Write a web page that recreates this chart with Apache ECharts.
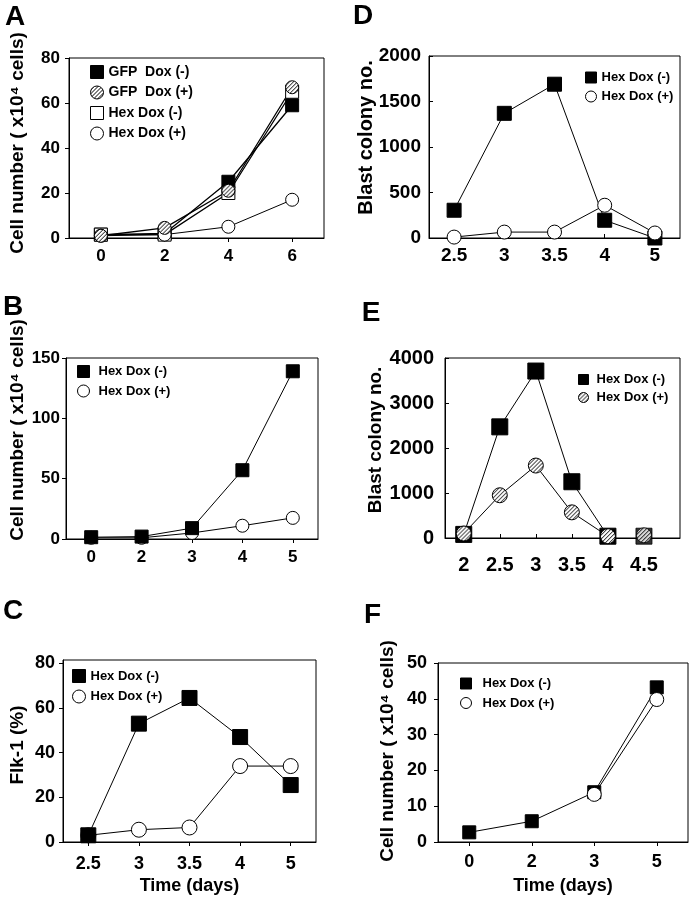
<!DOCTYPE html>
<html><head><meta charset="utf-8">
<script src="https://cdn.jsdelivr.net/npm/echarts@6/dist/echarts.min.js"></script>
<style>html,body{margin:0;padding:0;background:#fff}#c{width:693px;height:900px}</style>
</head><body><div id="c"></div>
<script>
// ---------- data ----------
const catA = ['0', '2', '4', '6'];
const aGfpMinus = [1.5, 2, 25, 59];
const aGfpPlus = [1, 4.5, 21, 67];
const aHexMinus = [1.5, 1.5, 20, 65];
const aHexPlus = [1, 1.5, 5, 17];

const catB = ['0', '2', '3', '4', '5'];
const bHexMinus = [1.5, 2, 9, 57, 139];
const bHexPlus = [1, 1, 5, 11, 17.5];

const catC = ['2.5', '3', '3.5', '4', '5'];
const cHexMinus = [3, 53, 64.5, 47, 25.5];
const cHexPlus = [3, 5.5, 6.5, 34, 34];

const catD = ['2.5', '3', '3.5', '4', '5'];
const dHexMinus = [305, 1370, 1690, 195, 0];
const dHexPlus = [10, 65, 65, 360, 55];

const xE = [2, 2.5, 3, 3.5, 4, 4.5];
const eHexMinus = [80, 2470, 3710, 1250, 40, 40];
const eHexPlus = [100, 950, 1610, 570, 40, 60];
const eConnected = 5; // points joined by the line; the last one stands alone

const catF = ['0', '2', '3', '5'];
const fHexMinus = [2.7, 5.8, 13.9, 43.2];
const fHexPlus = [null, null, 13.3, 39.8];

const yTicksC = [0, 20, 40, 60, 80];

// ---------- styles ----------
const FONT = "'Liberation Sans', Arial, Helvetica, sans-serif";
const hatchCanvas = (function () {
  const c = document.createElement('canvas');
  c.width = 4; c.height = 4;
  const g = c.getContext('2d');
  g.fillStyle = '#fff'; g.fillRect(0, 0, 4, 4);
  g.strokeStyle = '#000'; g.lineWidth = 1;
  g.beginPath();
  g.moveTo(0, 4); g.lineTo(4, 0);
  g.moveTo(-1, 1); g.lineTo(1, -1);
  g.moveTo(3, 5); g.lineTo(5, 3);
  g.stroke();
  return c;
})();
// series symbols are drawn as a unit path scaled by size/2, so the pattern is scaled back
function hatchFor(size) {
  return { image: hatchCanvas, repeat: 'repeat', scaleX: 2 / size, scaleY: 2 / size };
}
const hatchLegend = { image: hatchCanvas, repeat: 'repeat' };

function st(kind, size) {
  const base = { color: '#fff', borderColor: '#000', borderWidth: 1 };
  if (kind === 'blackSq') return { symbol: 'rect', itemStyle: Object.assign({}, base, { color: '#000' }) };
  if (kind === 'openSq') return { symbol: 'rect', itemStyle: base };
  if (kind === 'openCi') return { symbol: 'circle', itemStyle: base };
  return { symbol: 'circle', itemStyle: Object.assign({}, base, { color: hatchFor(size) }) };
}

function lineSeries(name, gi, data, kind, size, lw) {
  const s = st(kind, size);
  return {
    type: 'line', name, xAxisIndex: gi, yAxisIndex: gi, data,
    symbol: s.symbol, symbolSize: size, showAllSymbol: true,
    itemStyle: s.itemStyle, lineStyle: { color: '#000', width: lw || 1 },
    emphasis: { disabled: true }, animation: false, connectNulls: false
  };
}
function scatterSeries(name, gi, data, kind, size) {
  const s = st(kind, size);
  return {
    type: 'scatter', name, xAxisIndex: gi, yAxisIndex: gi, data,
    symbol: s.symbol, symbolSize: size, itemStyle: s.itemStyle,
    emphasis: { disabled: true }, animation: false
  };
}

function legend(items, left, top, gap, fs, icon, pad) {
  return {
    orient: 'vertical', left, top, padding: 0, itemGap: gap,
    itemWidth: icon, itemHeight: icon, selectedMode: false,
    data: items.map(it => {
      const d = { name: it[0], icon: it[1] };
      if (it[2]) d.itemStyle = { color: hatchLegend, borderColor: '#000', borderWidth: 1 };
      return d;
    }),
    formatter: n => n.slice(2),
    itemStyle: { borderColor: '#000', borderWidth: 1 },
    textStyle: { fontSize: fs, fontWeight: 'bold', color: '#000', fontFamily: FONT, padding: [0, 0, 0, pad] }
  };
}

function catX(gi, data, fs, margin, inside, name) {
  return {
    type: 'category', gridIndex: gi, data, boundaryGap: true,
    axisLine: { show: true, lineStyle: { color: '#000', width: 1 } },
    axisTick: { show: true, alignWithLabel: true, inside: !!inside, length: 4, lineStyle: { color: '#000' } },
    axisLabel: { color: '#000', fontWeight: 'bold', fontSize: fs, fontFamily: FONT, margin },
    splitLine: { show: false },
    name: name || '', nameLocation: 'middle', nameGap: 35,
    nameTextStyle: { color: '#000', fontWeight: 'bold', fontSize: 18, fontFamily: FONT }
  };
}
function valY(gi, max, interval, fs, margin, inside, extra) {
  const ax = {
    type: 'value', gridIndex: gi, min: 0, max,
    axisLine: { show: true, lineStyle: { color: '#000', width: 1 } },
    axisTick: { show: true, inside: !!inside, length: 4, lineStyle: { color: '#000' } },
    axisLabel: { color: '#000', fontWeight: 'bold', fontSize: fs, fontFamily: FONT, margin, formatter: v => String(v) },
    splitLine: { show: false }
  };
  if (interval) ax.interval = interval;
  if (extra) {
    Object.keys(extra).forEach(k => { ax[k] = Object.assign({}, ax[k], extra[k]); });
  }
  return ax;
}

const gridBase = { show: true, borderColor: '#000', borderWidth: 1, backgroundColor: 'transparent', containLabel: false };
const grids = [
  Object.assign({ left: 69, top: 58, width: 255, height: 180 }, gridBase),   // A
  Object.assign({ left: 66, top: 358, width: 252, height: 181 }, gridBase),  // B
  Object.assign({ left: 63, top: 660, width: 253, height: 182 }, gridBase),  // C
  Object.assign({ left: 429, top: 56, width: 251, height: 182 }, gridBase),  // D
  Object.assign({ left: 445, top: 358, width: 235, height: 180 }, gridBase), // E
  Object.assign({ left: 438, top: 663, width: 250, height: 179 }, gridBase)  // F
];

const xAxes = [
  catX(0, catA, 17, 10, false),
  catX(1, catB, 17, 10, false),
  catX(2, catC, 18, 13, false, 'Time (days)'),
  catX(3, catD, 19, 8, true),
  {
    type: 'value', gridIndex: 4, min: 1.74, max: 5.0,
    axisLine: { show: true, lineStyle: { color: '#000', width: 1 } },
    axisTick: { show: true, inside: true, length: 4, lineStyle: { color: '#000' }, customValues: xE },
    axisLabel: { color: '#000', fontWeight: 'bold', fontSize: 20, fontFamily: FONT, margin: 17, customValues: xE },
    splitLine: { show: false }
  },
  catX(5, catF, 18, 11, false, 'Time (days)')
];

const yAxes = [
  valY(0, 80, 20, 17, 9, false),
  valY(1, 150, 50, 17, 6, false),
  valY(2, 81.5, null, 18, 8, false, {
    axisLabel: { customValues: yTicksC }, axisTick: { customValues: yTicksC }
  }),
  valY(3, 2000, 500, 19, 8, true),
  valY(4, 4000, 1000, 20, 11, true, { axisLabel: { padding: [8, 0, 0, 0] } }),
  valY(5, 50, 10, 18, 11, false)
];

const series = [
  // A
  lineSeries('A:GFP  Dox (-)', 0, aGfpMinus, 'blackSq', 13, 1.3),
  lineSeries('A:Hex Dox (-)', 0, aHexMinus, 'openSq', 13, 1.3),
  lineSeries('A:Hex Dox (+)', 0, aHexPlus, 'openCi', 13, 1),
  lineSeries('A:GFP  Dox (+)', 0, aGfpPlus, 'hatchCi', 13, 1.3),
  // B
  lineSeries('B:Hex Dox (+)', 1, bHexPlus, 'openCi', 13),
  lineSeries('B:Hex Dox (-)', 1, bHexMinus, 'blackSq', 13),
  // C
  lineSeries('C:Hex Dox (+)', 2, cHexPlus, 'openCi', 15),
  lineSeries('C:Hex Dox (-)', 2, cHexMinus, 'blackSq', 15),
  // D
  lineSeries('D:Hex Dox (-)', 3, dHexMinus, 'blackSq', 14),
  lineSeries('D:Hex Dox (+)', 3, dHexPlus, 'openCi', 14),
  // E
  lineSeries('E:Hex Dox (-)', 4, xE.slice(0, eConnected).map((x, i) => [x, eHexMinus[i]]), 'blackSq', 16),
  scatterSeries('E:Hex Dox (-)', 4, xE.slice(eConnected).map((x, i) => [x, eHexMinus[eConnected + i]]), 'blackSq', 16),
  lineSeries('E:Hex Dox (+)', 4, xE.slice(0, eConnected).map((x, i) => [x, eHexPlus[i]]), 'hatchCi', 15),
  scatterSeries('E:Hex Dox (+)', 4, xE.slice(eConnected).map((x, i) => [x, eHexPlus[eConnected + i]]), 'hatchCi', 15),
  // F
  lineSeries('F:Hex Dox (-)', 5, fHexMinus, 'blackSq', 13),
  lineSeries('F:Hex Dox (+)', 5, fHexPlus, 'openCi', 14)
];

const legends = [
  legend([['A:GFP  Dox (-)', 'rect'], ['A:GFP  Dox (+)', 'circle', true], ['A:Hex Dox (-)', 'rect'], ['A:Hex Dox (+)', 'circle']], 90, 65, 6.5, 14, 13, 0),
  legend([['B:Hex Dox (-)', 'rect'], ['B:Hex Dox (+)', 'circle']], 77, 365, 6.5, 13, 12, 4),
  legend([['C:Hex Dox (-)', 'rect'], ['C:Hex Dox (+)', 'circle']], 72, 669, 6.5, 13, 13, 0),
  legend([['D:Hex Dox (-)', 'rect'], ['D:Hex Dox (+)', 'circle']], 585, 71, 6, 13, 11, 0),
  legend([['E:Hex Dox (-)', 'rect'], ['E:Hex Dox (+)', 'circle', true]], 578, 373, 5, 13, 10, 3),
  legend([['F:Hex Dox (-)', 'rect'], ['F:Hex Dox (+)', 'circle']], 460, 677, 6.5, 13, 11, 6)
];

function txt(text, x, y, fs, rot) {
  return {
    type: 'text', x, y, rotation: rot || 0, silent: true,
    style: { text, fill: '#000', font: 'bold ' + fs + 'px ' + FONT, textAlign: 'center', textVerticalAlign: 'middle' }
  };
}
const graphics = [
  txt('A', 15, 17, 28), txt('B', 13, 307, 28), txt('C', 13, 611, 28),
  txt('D', 363, 16.5, 28), txt('E', 371, 313, 28), txt('F', 372.5, 615, 28),
  txt('Cell number ( x10\u2074 cells)', 18, 143, 19, Math.PI / 2),
  txt('Cell number ( x10\u2074 cells)', 18, 430, 19, Math.PI / 2),
  txt('Flk-1 (%)', 18, 745, 19, Math.PI / 2),
  txt('Blast colony no.', 366, 137.5, 20, Math.PI / 2),
  txt('Blast colony no.', 376, 440, 19, Math.PI / 2),
  txt('Cell number ( x10\u2074 cells)', 388, 751, 19, Math.PI / 2)
];

const chart = echarts.init(document.getElementById('c'), null, { renderer: 'canvas' });
chart.setOption({
  backgroundColor: '#fff',
  animation: false,
  textStyle: { fontFamily: FONT },
  grid: grids,
  xAxis: xAxes,
  yAxis: yAxes,
  legend: legends,
  series,
  graphic: graphics
});
</script>
</body></html>
